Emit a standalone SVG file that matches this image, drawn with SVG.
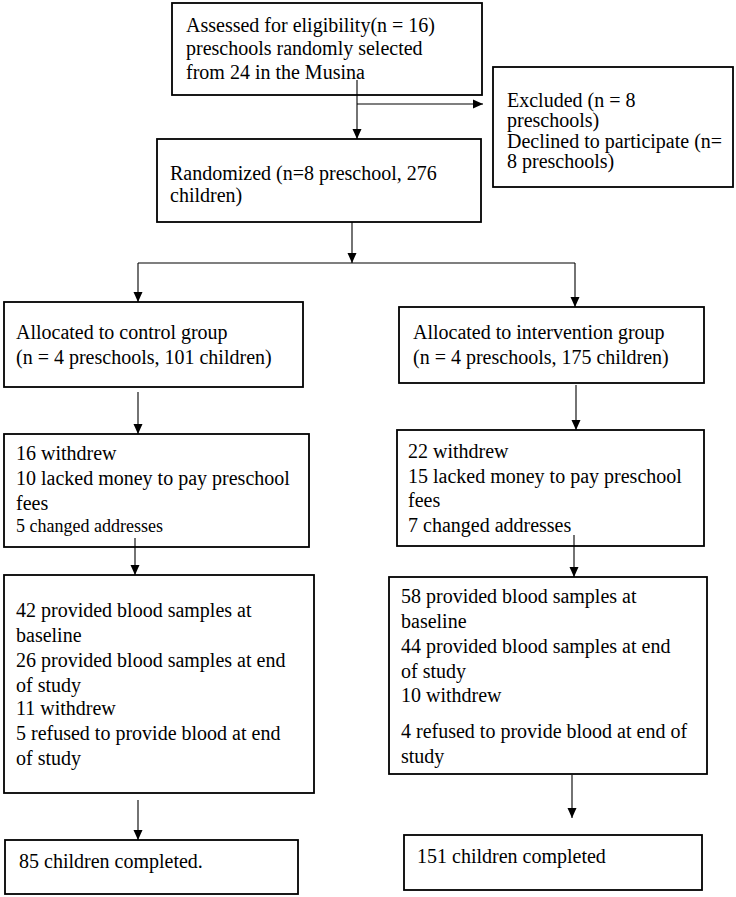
<svg xmlns="http://www.w3.org/2000/svg" width="736" height="897" viewBox="0 0 736 897">
<style>
.box{fill:#fff;stroke:#000;stroke-width:1.8}
.t{font-family:"Liberation Serif","Times New Roman",serif;font-size:20px;fill:#000}
.s{font-size:18px}
.c{fill:none;stroke:#000;stroke-width:1.1}
</style>
<defs>
<marker id="ah" markerUnits="userSpaceOnUse" markerWidth="10" markerHeight="10" viewBox="0 0 10 10" refX="10" refY="5" orient="auto">
<path d="M0,0.5 L10,5 L0,9.5 z" fill="#000"/>
</marker>
</defs>
<rect width="736" height="897" fill="#fff"/>
<g id="assessed">
<rect class="box" x="172" y="3" width="310" height="92"/>
<text class="t" x="186" y="32">Assessed for eligibility(n = 16)</text>
<text class="t" x="186" y="55">preschools randomly selected</text>
<text class="t" x="186" y="79">from 24 in the Musina</text>
</g>
<g id="excluded">
<rect class="box" x="493" y="67" width="240" height="120"/>
<text class="t" x="507" y="107">Excluded (n = 8</text>
<text class="t" x="507" y="127">preschools)</text>
<text class="t" x="507" y="148">Declined to participate (n=</text>
<text class="t" x="507" y="168">8 preschools)</text>
</g>
<g id="randomized">
<rect class="box" x="157" y="139" width="324" height="83"/>
<text class="t" x="170" y="180">Randomized (n=8 preschool, 276</text>
<text class="t" x="170" y="202">children)</text>
</g>
<g id="control-alloc">
<rect class="box" x="4" y="302" width="299" height="85"/>
<text class="t" x="16" y="339">Allocated to control group</text>
<text class="t" x="16" y="364">(n = 4 preschools, 101 children)</text>
</g>
<g id="interv-alloc">
<rect class="box" x="399" y="307" width="305" height="76"/>
<text class="t" x="413" y="339">Allocated to intervention group</text>
<text class="t" x="413" y="364">(n = 4 preschools, 175 children)</text>
</g>
<g id="control-withdrew">
<rect class="box" x="4" y="434" width="305" height="113"/>
<text class="t" x="16" y="460">16 withdrew</text>
<text class="t" x="16" y="485">10 lacked money to pay preschool</text>
<text class="t" x="16" y="510">fees</text>
<text class="t s" x="16" y="532">5 changed addresses</text>
</g>
<g id="interv-withdrew">
<rect class="box" x="397" y="430" width="307" height="116"/>
<text class="t" x="408" y="458">22 withdrew</text>
<text class="t" x="408" y="483">15 lacked money to pay preschool</text>
<text class="t" x="408" y="507">fees</text>
<text class="t" x="408" y="532">7 changed addresses</text>
</g>
<g id="control-blood">
<rect class="box" x="4" y="575" width="310" height="218"/>
<text class="t" x="16" y="617">42 provided blood samples at</text>
<text class="t" x="16" y="642">baseline</text>
<text class="t" x="16" y="667">26 provided blood samples at end</text>
<text class="t" x="16" y="692">of study</text>
<text class="t" x="16" y="715">11 withdrew</text>
<text class="t" x="16" y="740">5 refused to provide blood at end</text>
<text class="t" x="16" y="765">of study</text>
</g>
<g id="interv-blood">
<rect class="box" x="389" y="577" width="318" height="197"/>
<text class="t" x="401" y="603">58 provided blood samples at</text>
<text class="t" x="401" y="628">baseline</text>
<text class="t" x="401" y="653">44 provided blood samples at end</text>
<text class="t" x="401" y="678">of study</text>
<text class="t" x="401" y="702">10 withdrew</text>
<text class="t" x="401" y="738">4 refused to provide blood at end of</text>
<text class="t" x="401" y="763">study</text>
</g>
<g id="control-complete">
<rect class="box" x="5" y="840" width="293" height="54"/>
<text class="t" x="19" y="868">85 children completed.</text>
</g>
<g id="interv-complete">
<rect class="box" x="404" y="835" width="298" height="55"/>
<text class="t" x="417" y="863">151 children completed</text>
</g>
<g id="connectors">
<path class="c" d="M357,80 V139" marker-end="url(#ah)"/>
<path class="c" d="M357,104 H483" marker-end="url(#ah)"/>
<path class="c" d="M352,222 V263" marker-end="url(#ah)"/>
<path class="c" d="M138,263 H575"/>
<path class="c" d="M138,263 V302" marker-end="url(#ah)"/>
<path class="c" d="M575,263 V307" marker-end="url(#ah)"/>
<path class="c" d="M138,392 V434" marker-end="url(#ah)"/>
<path class="c" d="M576,385 V430" marker-end="url(#ah)"/>
<path class="c" d="M135,538 V575" marker-end="url(#ah)"/>
<path class="c" d="M574,535 V577" marker-end="url(#ah)"/>
<path class="c" d="M138,800 V840" marker-end="url(#ah)"/>
<path class="c" d="M572,775 V818" marker-end="url(#ah)"/>
</g>
</svg>
